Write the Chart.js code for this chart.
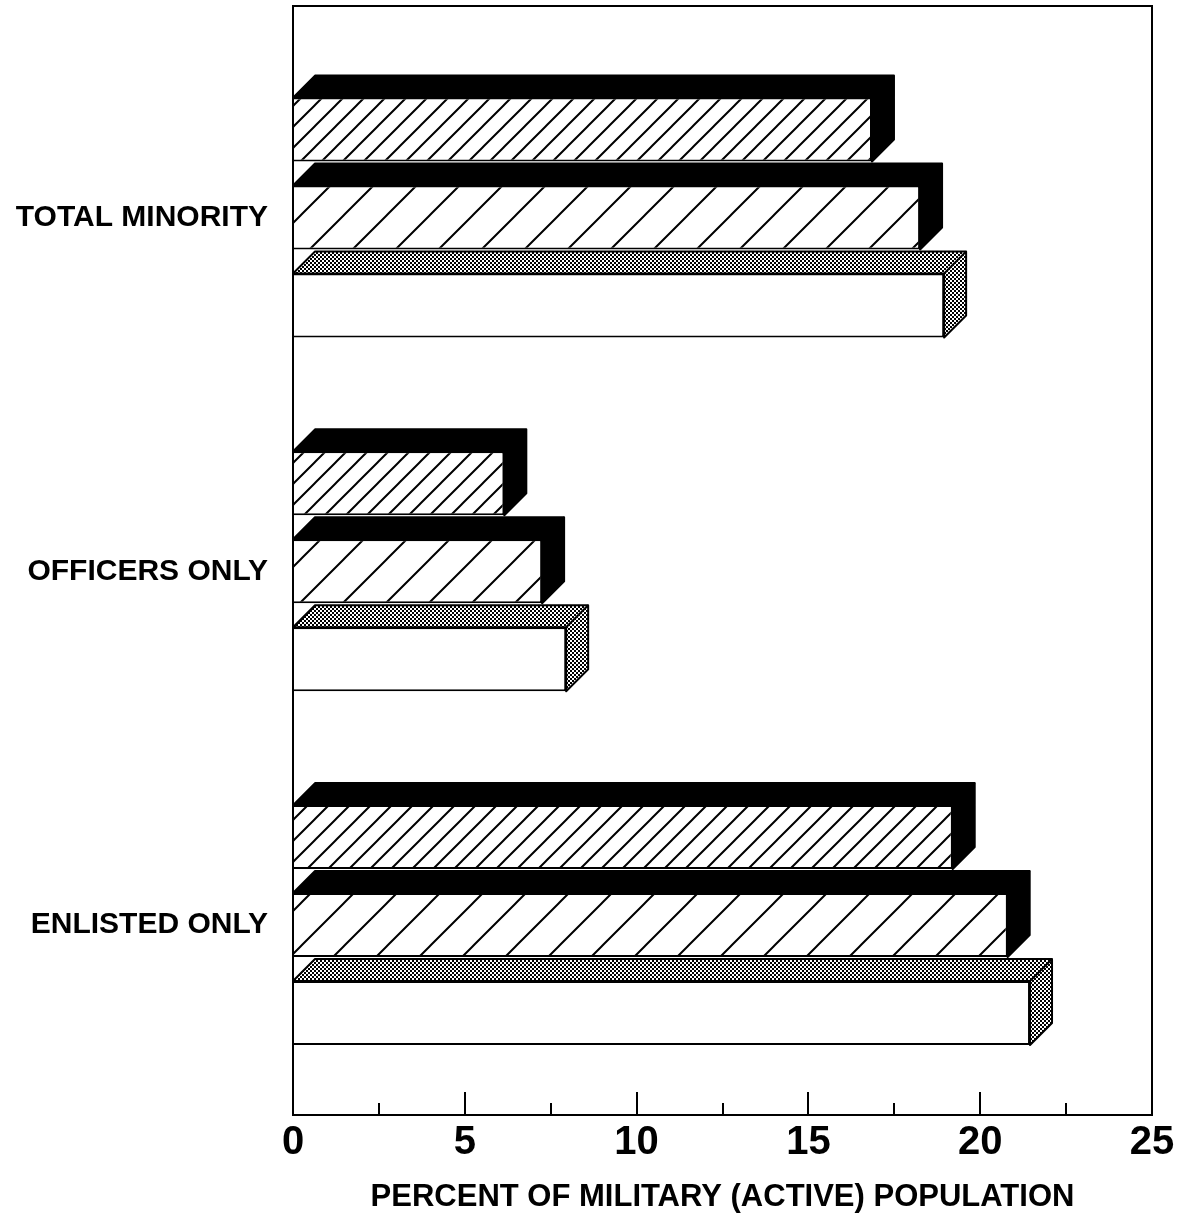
<!DOCTYPE html>
<html>
<head>
<meta charset="utf-8" />
<title>Minority share of military population</title>
<script src="https://cdn.jsdelivr.net/npm/chart.js@4.4.1/dist/chart.umd.min.js"></script>
<style>
  html, body { margin: 0; padding: 0; background: #fff; }
  #wrapper { width: 1183px; height: 1221px; }
</style>
</head>
<body>

<!-- Wrapper -->
<div id="wrapper"><canvas id="myChart"></canvas></div>

<script>
// values (percent)
var categories = ["TOTAL MINORITY", "OFFICERS ONLY", "ENLISTED ONLY"];
var seriesDense = [16.85, 6.15, 19.2];   // narrow hatch, black top
var seriesWide = [18.25, 7.25, 20.8];    // wide hatch, black top
var seriesPlain = [18.95, 7.95, 21.45];  // white, stippled top
var xTicks = [0, 5, 10, 15, 20, 25];
var xTitle = "PERCENT OF MILITARY (ACTIVE) POPULATION";

var depth = 22;

function hatch(step) {
  var c = document.createElement('canvas');
  c.width = step; c.height = step;
  var g = c.getContext('2d');
  g.fillStyle = '#fff';
  g.fillRect(0, 0, step, step);
  g.strokeStyle = '#000';
  g.lineWidth = 2;
  g.beginPath();
  g.moveTo(-2, step + 2); g.lineTo(step + 2, -2);
  g.moveTo(-2, 2); g.lineTo(2, -2);
  g.moveTo(step - 2, step + 2); g.lineTo(step + 2, step - 2);
  g.stroke();
  return g.createPattern(c, 'repeat');
}

function stipple() {
  var c = document.createElement('canvas');
  c.width = 4; c.height = 4;
  var g = c.getContext('2d');
  g.fillStyle = '#fff';
  g.fillRect(0, 0, 4, 4);
  g.fillStyle = '#000';
  g.fillRect(0, 0, 2, 2);
  g.fillRect(2, 2, 2, 2);
  return g.createPattern(c, 'repeat');
}

function toPoints(arr) {
  return arr.map(function(v, i) { return {x: v, y: i}; });
}

// 3D top and side faces on each bar
var bar3d = {
  id: 'bar3d',
  afterDatasetsDraw: function(chart) {
    var ctx = chart.ctx;
    chart.data.datasets.forEach(function(ds, di) {
      var meta = chart.getDatasetMeta(di);
      meta.data.forEach(function(bar) {
        var p = bar.getProps(['x', 'y', 'base', 'height'], true);
        var top = p.y - p.height / 2, bottom = p.y + p.height / 2;
        ctx.save();
        ctx.fillStyle = ds.sideFill;
        ctx.strokeStyle = '#000';
        ctx.lineWidth = 2;
        ctx.lineJoin = 'round';
        ctx.beginPath();
        ctx.moveTo(p.base, top);
        ctx.lineTo(p.base + depth, top - depth);
        ctx.lineTo(p.x + depth, top - depth);
        ctx.lineTo(p.x + depth, bottom - depth);
        ctx.lineTo(p.x, bottom);
        ctx.lineTo(p.x, top);
        ctx.closePath();
        ctx.fill();
        ctx.stroke();
        ctx.beginPath();
        ctx.moveTo(p.x, top);
        ctx.lineTo(p.x + depth, top - depth);
        ctx.stroke();
        ctx.restore();
      });
    });
  }
};

// box round the plot and inner ticks on the bottom axis
var frame = {
  id: 'frame',
  afterDraw: function(chart) {
    var a = chart.chartArea, ctx = chart.ctx, xs = chart.scales.x;
    ctx.save();
    ctx.strokeStyle = '#000';
    ctx.lineWidth = 2;
    ctx.strokeRect(a.left, a.top, a.right - a.left, a.bottom - a.top);
    ctx.beginPath();
    for (var v = 2.5; v < 25; v += 2.5) {
      var px = Math.round(xs.getPixelForValue(v));
      var len = (v % 5 === 0) ? 23 : 12;
      ctx.moveTo(px, a.bottom);
      ctx.lineTo(px, a.bottom - len);
    }
    ctx.stroke();
    ctx.restore();
  }
};

var ctx = document.getElementById('myChart');
var myChart = new Chart(ctx, {
  type: 'bar',
  data: {
    datasets: [{
      data: toPoints(seriesDense),
      backgroundColor: hatch(21),
      sideFill: '#000',
      borderColor: '#000',
      borderWidth: 2
    }, {
      data: toPoints(seriesWide),
      backgroundColor: hatch(43),
      sideFill: '#000',
      borderColor: '#000',
      borderWidth: 2
    }, {
      data: toPoints(seriesPlain),
      backgroundColor: '#fff',
      sideFill: stipple(),
      borderColor: '#000',
      borderWidth: 2
    }]
  },
  options: {
    indexAxis: 'y',
    responsive: true,
    maintainAspectRatio: false,
    animation: false,
    categoryPercentage: 0.746,
    barPercentage: 0.727,
    layout: { padding: { top: 6, right: 31, left: 0, bottom: 0 } },
    plugins: {
      legend: { display: false },
      tooltip: { enabled: false }
    },
    scales: {
      y: {
        type: 'linear',
        reverse: true,
        offset: false,
        min: -0.598,
        max: 2.537,
        afterBuildTicks: function(axis) {
          axis.ticks = categories.map(function(c, i) { return {value: i}; });
        },
        afterFit: function(scale) {
          scale.width = 293;
          scale.paddingTop = 0;
          scale.paddingBottom = 0;
        },
        grid: { display: false, drawTicks: false },
        border: { display: false },
        ticks: {
          autoSkip: false,
          padding: 25,
          color: '#000',
          font: { family: 'Liberation Sans', size: 30, weight: 'bold' },
          callback: function(v) { return categories[v]; }
        }
      },
      x: {
        type: 'linear',
        min: xTicks[0],
        max: xTicks[xTicks.length - 1],
        afterBuildTicks: function(axis) {
          axis.ticks = xTicks.map(function(v) { return {value: v}; });
        },
        afterFit: function(scale) { scale.height = 106; },
        grid: { display: false, drawTicks: false },
        border: { display: false },
        ticks: {
          padding: 4,
          color: '#000',
          font: { family: 'Liberation Sans', size: 40, weight: 'bold' }
        },
        title: {
          display: true,
          text: xTitle,
          color: '#000',
          padding: { top: 0, bottom: 5 },
          font: { family: 'Liberation Sans', size: 31, weight: 'bold' }
        }
      }
    }
  },
  plugins: [bar3d, frame]
});
</script>
</body>
</html>
